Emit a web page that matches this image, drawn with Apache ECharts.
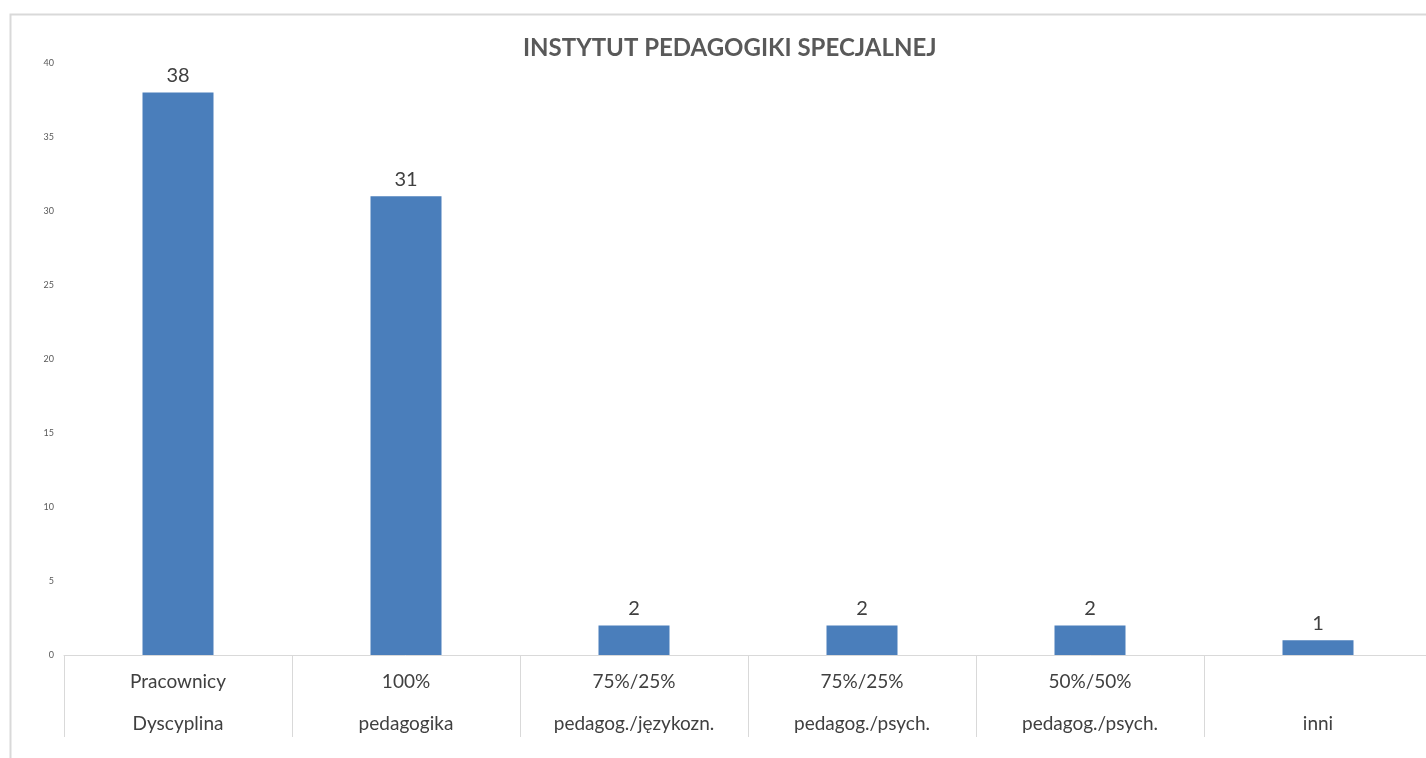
<!DOCTYPE html>
<html>
<head>
<meta charset="utf-8">
<script src="https://cdn.jsdelivr.net/npm/echarts@6/dist/echarts.min.js"></script>
<style>
html,body{margin:0;padding:0;background:#fff;overflow:hidden;width:1426px;height:758px;}
#chart{width:1432px;height:758px;}
</style>
</head>
<body>
<div id="chart"></div>
<script>
const titleText = "INSTYTUT PEDAGOGIKI SPECJALNEJ";
const catTop = ["Pracownicy", "100%", "75%/25%", "75%/25%", "50%/50%", ""];
const catBottom = ["Dyscyplina", "pedagogika", "pedagog./językozn.", "pedagog./psych.", "pedagog./psych.", "inni"];
const values = [38, 31, 2, 2, 2, 1];
const yTicks = [0, 5, 10, 15, 20, 25, 30, 35, 40];

const categories = catTop.map((t, i) => t + "\n" + catBottom[i]);
const chart = echarts.init(document.getElementById('chart'));
const FONT = 'Lato, "Open Sans", sans-serif';
chart.setOption({
  backgroundColor: '#fff',
  animation: false,
  title: {
    text: titleText,
    left: 518,
    top: 31,
    textStyle: { fontFamily: FONT, fontSize: 24, fontWeight: 'bold', color: '#595959' }
  },
  graphic: [{
    type: 'rect',
    shape: { x: 10.5, y: 14.5, width: 1440, height: 800 },
    style: { fill: 'none', stroke: '#d9d9d9', lineWidth: 2 },
    silent: true, z: -1
  }],
  grid: { left: 64, right: 0, top: 63, bottom: 103, containLabel: false },
  xAxis: {
    type: 'category',
    data: categories,
    axisLine: { show: true, lineStyle: { color: '#d9d9d9', width: 1 } },
    axisTick: { show: true, length: 82, lineStyle: { color: '#d9d9d9' } },
    axisLabel: {
      interval: 0,
      margin: 6,
      lineHeight: 42,
      fontFamily: FONT, fontSize: 19, color: '#404040'
    }
  },
  yAxis: {
    type: 'value',
    min: 0, max: 40, interval: 5,
    axisLine: { show: false },
    axisTick: { show: false },
    splitLine: { show: false },
    axisLabel: {
      margin: 10,
      fontFamily: FONT, fontSize: 9, color: '#595959',
      formatter: v => yTicks.includes(v) ? String(v) : ''
    }
  },
  series: [{
    type: 'bar',
    data: values,
    barWidth: 71,
    itemStyle: { color: '#4a7ebb' },
    label: {
      show: true, position: 'top', distance: 7,
      fontFamily: FONT, fontSize: 20, color: '#404040'
    }
  }]
});
</script>
</body>
</html>
